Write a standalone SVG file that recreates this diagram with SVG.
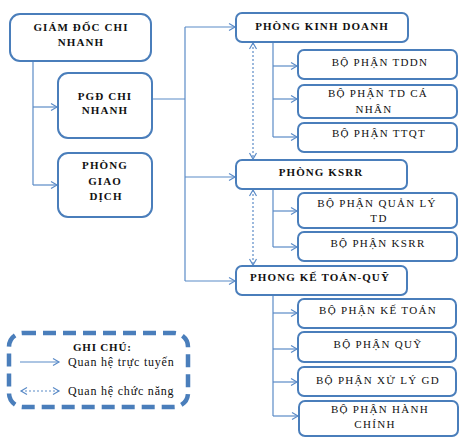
<svg xmlns="http://www.w3.org/2000/svg" width="469" height="445" viewBox="0 0 469 445">
<style>
.box{fill:#fff;stroke:#4a7ebb;stroke-width:2}
.b{font-family:"Liberation Serif","Times New Roman",serif;font-size:11px;font-weight:bold;letter-spacing:1.1px;fill:#111;text-anchor:middle}
.r{font-family:"Liberation Serif","Times New Roman",serif;font-size:11px;letter-spacing:1.3px;fill:#111;text-anchor:middle}
.lg{font-family:"Liberation Serif","Times New Roman",serif;font-size:12px;letter-spacing:0.8px;fill:#111}
.ln{fill:none;stroke:#5b8bc7;stroke-width:1.2}
.ds{fill:none;stroke:#5b8bc7;stroke-width:1.2;stroke-dasharray:2 2}
</style>
<defs>
<marker id="arr" markerUnits="userSpaceOnUse" markerWidth="10" markerHeight="10" refX="7" refY="5" orient="auto-start-reverse" viewBox="0 0 10 10">
<path d="M1,1.5 L7,5 L1,8.5" fill="none" stroke="#5b8bc7" stroke-width="1.2"/>
</marker>
</defs>
<rect width="469" height="445" fill="#fff"/>
<g id="connectors">
<path class="ln" d="M33,61 V185"/>
<path class="ln" d="M33,107 H57" marker-end="url(#arr)"/>
<path class="ln" d="M33,185 H57" marker-end="url(#arr)"/>
<path class="ln" d="M152,99 H185"/>
<path class="ln" d="M185,27 V281"/>
<path class="ln" d="M185,27 H235" marker-end="url(#arr)"/>
<path class="ln" d="M185,177 H235" marker-end="url(#arr)"/>
<path class="ln" d="M185,281 H235" marker-end="url(#arr)"/>
<path class="ln" d="M273,42 V137"/>
<path class="ln" d="M273,66 H297" marker-end="url(#arr)"/>
<path class="ln" d="M273,99 H297" marker-end="url(#arr)"/>
<path class="ln" d="M273,137 H297" marker-end="url(#arr)"/>
<path class="ln" d="M273,189 V247"/>
<path class="ln" d="M273,211 H297" marker-end="url(#arr)"/>
<path class="ln" d="M273,247 H297" marker-end="url(#arr)"/>
<path class="ln" d="M273,295 V416"/>
<path class="ln" d="M273,313 H297" marker-end="url(#arr)"/>
<path class="ln" d="M273,349 H297" marker-end="url(#arr)"/>
<path class="ln" d="M273,382 H297" marker-end="url(#arr)"/>
<path class="ln" d="M273,416 H298" marker-end="url(#arr)"/>
<path class="ds" d="M253,43 V159" marker-start="url(#arr)" marker-end="url(#arr)"/>
<path class="ds" d="M253,190 V265" marker-start="url(#arr)" marker-end="url(#arr)"/>
</g>
<g id="giam-doc"><rect class="box" x="10" y="14" width="141" height="47" rx="10"/><text class="b" x="81" y="31">GIÁM ĐỐC CHI</text><text class="b" x="81" y="46">NHANH</text></g>
<g id="pgd"><rect class="box" x="58" y="73" width="94" height="65" rx="10"/><text class="b" x="105" y="100">PGĐ CHI</text><text class="b" x="105" y="114">NHANH</text></g>
<g id="phong-giao-dich"><rect class="box" x="58" y="153" width="94" height="64" rx="10"/><text class="b" x="105" y="169">PHÒNG</text><text class="b" x="105" y="185">GIAO</text><text class="b" x="106" y="200">DỊCH</text></g>
<g id="phong-kinh-doanh"><rect class="box" x="236" y="13" width="172" height="29" rx="6"/><text class="b" x="322" y="30">PHÒNG KINH DOANH</text></g>
<g id="tddn"><rect class="box" x="298" y="50" width="159" height="29" rx="6"/><text class="r" x="380" y="66">BỘ PHẬN TDDN</text></g>
<g id="td-ca-nhan"><rect class="box" x="298" y="85" width="159" height="33" rx="6"/><text class="r" x="378" y="97">BỘ PHẬN TD CÁ</text><text class="r" x="374" y="113">NHÂN</text></g>
<g id="ttqt"><rect class="box" x="298" y="123" width="159" height="29" rx="6"/><text class="r" x="379" y="137">BỘ PHẬN TTQT</text></g>
<g id="phong-ksrr"><rect class="box" x="236" y="160" width="171" height="29" rx="6"/><text class="b" x="321" y="176">PHÒNG KSRR</text></g>
<g id="quan-ly-td"><rect class="box" x="298" y="193" width="159" height="35" rx="6"/><text class="r" x="377" y="207">BỘ PHẬN QUẢN LÝ</text><text class="r" x="379" y="222">TD</text></g>
<g id="ksrr-sub"><rect class="box" x="298" y="232" width="159" height="29" rx="6"/><text class="r" x="378" y="247">BỘ PHẬN KSRR</text></g>
<g id="phong-ke-toan"><rect class="box" x="236" y="266" width="171" height="29" rx="6"/><text class="b" x="320" y="281">PHONG KẾ TOÁN-QUỸ</text></g>
<g id="ke-toan"><rect class="box" x="298" y="299" width="158" height="29" rx="6"/><text class="r" x="378" y="314">BỘ PHẬN KẾ TOÁN</text></g>
<g id="quy"><rect class="box" x="298" y="332" width="158" height="30" rx="6"/><text class="r" x="378" y="348">BỘ PHẬN QUỸ</text></g>
<g id="xu-ly-gd"><rect class="box" x="298" y="367" width="158" height="29" rx="6"/><text class="r" x="378" y="384">BỘ PHẬN XỬ LÝ GD</text></g>
<g id="hanh-chinh"><rect class="box" x="299" y="401" width="159" height="35" rx="6"/><text class="r" x="380" y="413">BỘ PHẬN HÀNH</text><text class="r" x="375" y="428">CHÍNH</text></g>
<g id="legend">
<rect x="9" y="333" width="179" height="74" rx="14" fill="none" stroke="#4a7ebb" stroke-width="4.5" stroke-dasharray="13 7"/>
<text class="lg" x="73" y="351" style="font-weight:bold;font-size:11px">GHI CHÚ:</text>
<path class="ln" d="M20,362 H59" marker-end="url(#arr)"/>
<text class="lg" x="68" y="366">Quan hệ trực tuyến</text>
<path class="ds" d="M21,391 H59" marker-start="url(#arr)" marker-end="url(#arr)"/>
<text class="lg" x="68" y="395">Quan hệ chức năng</text>
</g>
</svg>
